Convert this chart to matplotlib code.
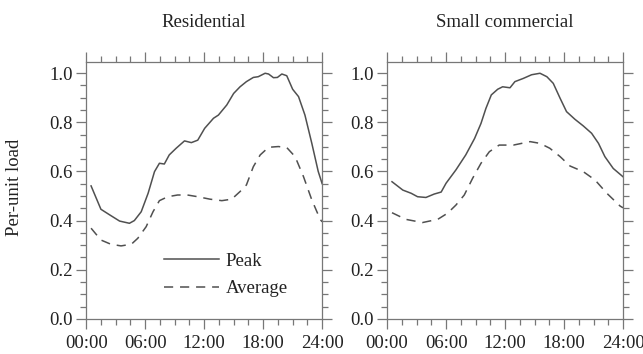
import matplotlib
matplotlib.use("Agg")
import matplotlib.pyplot as plt
from matplotlib.ticker import MultipleLocator, FuncFormatter

# Residential profile (hour of day, per-unit load)
res_peak_h = [0.5, 1.5, 2.4, 3.4, 4.4, 4.9, 5.6, 6.3, 6.95, 7.45, 7.95, 8.45, 9.15,
              10.0, 10.7, 11.35, 12.05, 12.95, 13.45, 14.3, 15.0, 15.65, 16.3, 17.0,
              17.5, 18.2, 18.55, 19.05, 19.45, 19.9, 20.4, 21.0, 21.6, 22.25, 22.95,
              23.6, 24.0]
res_peak = [0.541, 0.446, 0.423, 0.398, 0.389, 0.400, 0.436, 0.511, 0.599, 0.633,
            0.630, 0.667, 0.694, 0.724, 0.717, 0.727, 0.775, 0.816, 0.829, 0.870,
            0.917, 0.944, 0.965, 0.982, 0.985, 0.999, 0.996, 0.981, 0.982, 0.996,
            0.989, 0.934, 0.904, 0.829, 0.714, 0.600, 0.550]
res_avg_h = [0.5, 1.5, 2.5, 3.55, 4.6, 5.25, 6.1, 6.8, 7.45, 8.3, 9.3, 10.3, 11.35,
             12.6, 13.8, 14.8, 15.65, 16.3, 17.0, 17.7, 18.55, 19.55, 20.4, 21.25,
             22.1, 22.95, 23.8, 24.0]
res_avg = [0.369, 0.321, 0.304, 0.297, 0.304, 0.328, 0.375, 0.436, 0.481, 0.497,
           0.504, 0.504, 0.497, 0.487, 0.481, 0.487, 0.518, 0.545, 0.619, 0.667,
           0.698, 0.701, 0.697, 0.660, 0.579, 0.484, 0.405, 0.395]

# Small commercial profile
com_peak_h = [0.5, 1.6, 2.45, 3.1, 3.95, 4.8, 5.5, 6.0, 7.0, 8.0, 8.9, 9.55, 10.05,
              10.6, 11.25, 11.75, 12.5, 13.0, 13.85, 14.7, 15.55, 16.25, 16.9, 17.6,
              18.25, 19.1, 19.95, 20.8, 21.5, 22.15, 23.0, 24.0]
com_peak = [0.558, 0.524, 0.511, 0.497, 0.494, 0.508, 0.516, 0.552, 0.606, 0.667,
            0.734, 0.795, 0.856, 0.911, 0.934, 0.944, 0.940, 0.965, 0.978, 0.993,
            0.999, 0.985, 0.958, 0.897, 0.843, 0.812, 0.785, 0.755, 0.714, 0.660,
            0.612, 0.578]
com_avg_h = [0.5, 1.9, 3.6, 5.15, 6.15, 7.0, 7.85, 8.7, 9.55, 10.4, 11.4, 12.85,
             14.55, 15.55, 16.55, 17.6, 18.6, 19.95, 21.15, 22.35, 23.7, 24.0]
com_avg = [0.432, 0.405, 0.392, 0.405, 0.430, 0.463, 0.504, 0.572, 0.633, 0.680,
           0.707, 0.707, 0.721, 0.714, 0.694, 0.660, 0.622, 0.599, 0.565, 0.511,
           0.459, 0.452]

titles = ["Residential", "Small commercial"]
LINE = "#505050"
AXC = "#777777"
FS = 13.5

plt.rcParams["font.family"] = ["Liberation Serif", "DejaVu Serif"]
plt.rcParams["font.size"] = FS
plt.rcParams["text.color"] = "#222222"

fig = plt.figure(figsize=(6.43, 3.54), dpi=100)
ax1 = fig.add_axes([0.134, 0.099, 0.367, 0.726])
ax2 = fig.add_axes([0.602, 0.099, 0.367, 0.726])

panels = [(ax1, res_peak_h, res_peak, res_avg_h, res_avg),
          (ax2, com_peak_h, com_peak, com_avg_h, com_avg)]

for i, (ax, ph, pv, ah, av) in enumerate(panels):
    ax.plot(ph, pv, color=LINE, lw=1.1, label="Peak")
    ax.plot(ah, av, color=LINE, lw=1.1, dashes=(6, 4.5), label="Average")
    ax.set_xlim(0, 24)
    ax.set_ylim(0, 1.045)
    ax.xaxis.set_major_locator(MultipleLocator(6))
    ax.xaxis.set_minor_locator(MultipleLocator(1.5))
    ax.yaxis.set_major_locator(MultipleLocator(0.2))
    ax.yaxis.set_minor_locator(MultipleLocator(0.05))
    ax.xaxis.set_major_formatter(FuncFormatter(lambda v, p: "%02d:00" % int(v)))
    ax.yaxis.set_major_formatter(FuncFormatter(lambda v, p: "%.1f" % v))
    ax.tick_params(which="both", direction="out", top=True, right=True,
                   color=AXC, labelcolor="#222222", width=0.9, labelsize=FS)
    ax.tick_params(which="major", length=7.5, pad=2)
    ax.tick_params(axis="x", which="major", pad=4)
    ax.tick_params(which="minor", length=4)
    for s in ax.spines.values():
        s.set_color(AXC)
        s.set_linewidth(0.9)
    ax.set_title(titles[i], pad=25, fontsize=FS)

fig.text(0.023, 0.47, "Per-unit load", rotation=90, ha="center", va="center",
         fontsize=FS)

ax1.legend(loc="upper left", bbox_to_anchor=(0.33, 0.258), frameon=False,
           handlelength=2.95, handletextpad=0.32, labelspacing=0.55,
           borderpad=0, borderaxespad=0, fontsize=FS)

fig.savefig("out.png", dpi=100)
